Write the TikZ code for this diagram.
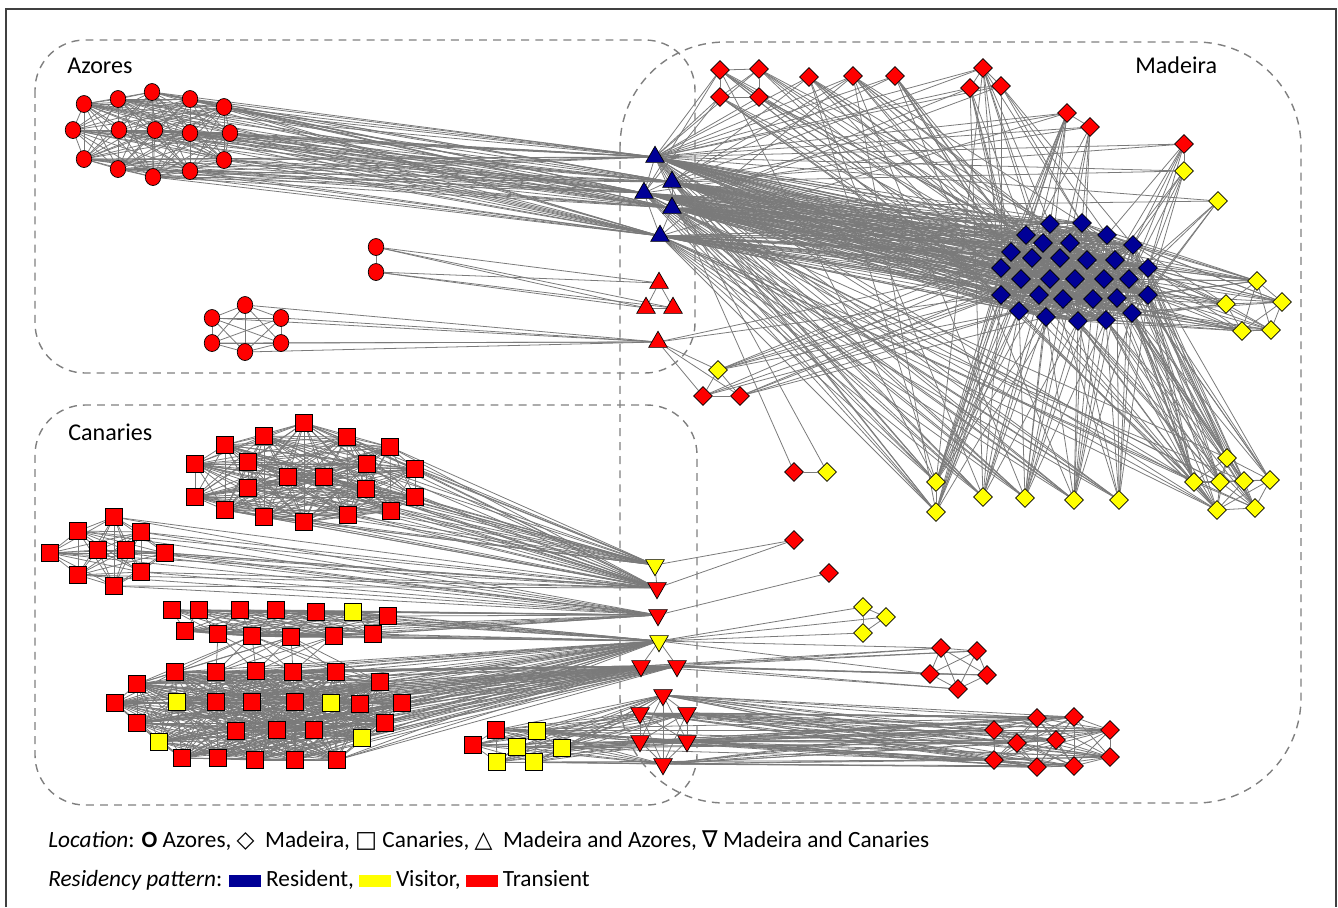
\documentclass[tikz,border=0pt]{standalone}
\usepackage{fontspec}
\setmainfont{Carlito}
\newfontfamily\symfont{DejaVu Sans}
\usetikzlibrary{shapes.geometric,backgrounds}
\definecolor{resblue}{RGB}{0,0,150}
\definecolor{visyellow}{RGB}{255,255,0}
\definecolor{trared}{RGB}{255,0,0}
\definecolor{linkgray}{RGB}{122,122,122}
\definecolor{zonegray}{RGB}{128,128,128}
\tikzset{
  link/.style={draw=linkgray,line width=0.45pt},
  zone/.style={draw=zonegray,line width=0.8pt,dash pattern=on 4.5pt off 3.5pt},
  azo/.style={ellipse,draw,fill=trared,inner sep=0pt,minimum width=0.31cm,minimum height=0.34cm,line width=0.4pt},
  mad/.style={diamond,draw,inner sep=0pt,minimum width=0.38cm,minimum height=0.38cm,line width=0.4pt},
  can/.style={rectangle,draw,inner sep=0pt,minimum size=0.33cm,line width=0.4pt},
  maz/.style={regular polygon,regular polygon sides=3,draw,inner sep=0pt,minimum size=0.43cm,line width=0.4pt},
  mca/.style={maz,shape border rotate=180},
  zonelabel/.style={anchor=base west,inner sep=0pt,font=\fontsize{13.7}{16}\selectfont},
  legend/.style={anchor=base west,inner sep=0pt,font=\fontsize{13.25}{15}\selectfont},
}
% every pair inside one group
\newcommand\clique[2]{\foreach \i in {1,...,#2}{\foreach \j in {\i,...,#2}{\ifnum\i<\j\relax\draw[link] (#1\i) -- (#1\j);\fi}}}
% every node of one list to every node of another
\newcommand\bundle[2]{\foreach \a in {#1}{\foreach \b in {#2}{\draw[link] (\a) -- (\b);}}}
\begin{document}
\begin{tikzpicture}[x=0.02cm,y=-0.02cm]
\useasboundingbox (0,0) rectangle (1338,907);
\draw[line width=0.7pt,draw=black!75] (6,907) -- (6,9) -- (1336,9) -- (1336,907);

% Azores
\foreach \n/\x/\y in {1/84/104,2/118/99,3/152/92,4/190/99,5/224/107,6/73/130,7/119/130,8/155/130,9/190/133,10/230/133,11/84/159,12/118/169,13/153/177,14/190/171,15/224/160}
  \node[azo] (az\n) at (\x,\y) {};
\foreach \n/\x/\y in {1/376/247,2/376/272} \node[azo] (ap\n) at (\x,\y) {};
\foreach \n/\x/\y in {1/245/305,2/212/318,3/281/318,4/212/343,5/281/343,6/245/352} \node[azo] (ah\n) at (\x,\y) {};

% Madeira and Azores
\foreach \n/\x/\y in {1/655/157,2/672/182,3/644/193,4/672/208,5/660/236} \node[maz,fill=resblue] (ta\n) at (\x,\y) {};
\foreach \n/\x/\y in {1/659/283,2/646/308,3/673/308,4/658/342} \node[maz,fill=trared] (tr\n) at (\x,\y) {};

% Madeira
\foreach \n/\x/\y in {1/720/70,2/759/69,3/720/97,4/759/97,5/809/77,6/853/76,7/895/76,8/983/68,9/970/88,10/1001/86,11/1067/113,12/1090/127,13/1184/144}
  \node[mad,fill=trared] (mt\n) at (\x,\y) {};
\foreach \n/\x/\y in {1/1184/171,2/1218/201} \node[mad,fill=visyellow] (mv\n) at (\x,\y) {};
\foreach \n/\x/\y in {1/1050/224,2/1082/223,3/1026/235,4/1107/235,5/1043/243,6/1070/243,7/1133/245,8/1011/252,9/1032/258,10/1060/258,11/1087/260,12/1115/260,13/1001/268,14/1148/268,15/1021/279,16/1050/279,17/1075/279,18/1104/279,19/1129/279,20/1001/295,21/1039/295,22/1063/299,23/1093/299,24/1117/298,25/1148/295,26/1019/311,27/1046/317,28/1078/321,29/1106/320,30/1132/313}
  \node[mad,fill=resblue] (md\n) at (\x,\y) {};
\foreach \n/\x/\y in {1/1257/281,2/1226/304,3/1282/302,4/1242/331,5/1271/330} \node[mad,fill=visyellow] (my\n) at (\x,\y) {};
\foreach \n/\x/\y/\c in {1/718/370/visyellow,2/703/396/trared,3/740/396/trared} \node[mad,fill=\c] (mb\n) at (\x,\y) {};
\foreach \n/\x/\y/\c in {1/794/472/trared,2/827/472/visyellow} \node[mad,fill=\c] (mc\n) at (\x,\y) {};
\foreach \n/\x/\y in {1/936/482,2/936/512,3/983/497,4/1025/498,5/1074/500,6/1119/500} \node[mad,fill=visyellow] (mw\n) at (\x,\y) {};
\foreach \n/\x/\y in {1/1227/458,2/1194/482,3/1220/482,4/1244/481,5/1270/480,6/1217/510,7/1255/508} \node[mad,fill=visyellow] (mz\n) at (\x,\y) {};
\foreach \n/\x/\y in {1/794/540,2/829/573} \node[mad,fill=trared] (me\n) at (\x,\y) {};
\foreach \n/\x/\y in {1/863/607,2/886/617,3/863/633} \node[mad,fill=visyellow] (mq\n) at (\x,\y) {};
\foreach \n/\x/\y in {1/941/648,2/977/651,3/930/674,4/987/675,5/958/689} \node[mad,fill=trared] (mp\n) at (\x,\y) {};
\foreach \n/\x/\y in {1/1037/718,2/1074/717,3/994/730,4/1110/730,5/1017/743,6/1056/740,7/994/760,8/1110/757,9/1037/767,10/1074/766}
  \node[mad,fill=trared] (mr\n) at (\x,\y) {};

% Madeira and Canaries
\foreach \n/\x/\y/\c in {1/655/565/visyellow,2/657/588/trared,3/658/615/trared,4/659/641/visyellow,5/641/666/trared,6/677/666/trared,7/663/695/trared,8/640/713/trared,9/687/713/trared,10/640/741/trared,11/687/741/trared,12/663/764/trared}
  \node[mca,fill=\c] (td\n) at (\x,\y) {};

% Canaries
\foreach \n/\x/\y in {1/304/423,2/264/436,3/347/437,4/225/445,5/390/447,6/195/464,7/248/462,8/367/464,9/415/469,10/288/477,11/324/477,12/248/488,13/366/489,14/195/497,15/415/497,16/225/510,17/264/517,18/304/522,19/348/515,20/391/511}
  \node[can,fill=trared] (ca\n) at (\x,\y) {};
\foreach \n/\x/\y in {1/114/517,2/78/531,3/141/532,4/50/553,5/98/550,6/126/550,7/165/553,8/78/575,9/141/572,10/114/586}
  \node[can,fill=trared] (cb\n) at (\x,\y) {};
\foreach \n/\x/\y/\c in {1/172/610/trared,2/199/610/trared,3/240/610/trared,4/276/610/trared,5/316/612/trared,6/353/612/visyellow,7/388/616/trared,8/185/631/trared,9/218/634/trared,10/252/636/trared,11/291/637/trared,12/334/636/trared,13/373/634/trared}
  \node[can,fill=\c] (cc\n) at (\x,\y) {};
\foreach \n/\x/\y/\c in {1/175/672/trared,2/216/672/trared,3/256/671/trared,4/293/672/trared,5/336/672/trared,6/380/682/trared,7/137/684/trared,8/115/703/trared,9/177/702/visyellow,10/216/702/trared,11/252/702/trared,12/295/702/trared,13/331/703/visyellow,14/360/704/trared,15/402/703/trared,16/137/723/trared,17/236/731/trared,18/277/730/trared,19/314/730/trared,20/385/723/trared,21/362/738/visyellow,22/159/742/visyellow,23/182/758/trared,24/218/758/trared,25/255/760/trared,26/295/760/trared,27/337/760/trared}
  \node[can,fill=\c] (cd\n) at (\x,\y) {};
\foreach \n/\x/\y/\c in {1/496/730/trared,2/473/745/trared,3/537/731/visyellow,4/517/747/visyellow,5/562/748/visyellow,6/497/762/visyellow,7/534/762/visyellow}
  \node[can,fill=\c] (ce\n) at (\x,\y) {};

\node[zonelabel] (azlabel) at (67,73) {Azores};
\node[zonelabel] (madlabel) at (1135,73) {Madeira};
\node[zonelabel] (canlabel) at (68,440) {Canaries};

\node[legend] (loclegend) at (48,847) {\textit{Location}: \textbf{O} Azores, {\symfont ◇}\ \ Madeira, {\symfont □} Canaries, {\symfont △}\ \ Madeira and Azores, {\symfont ∇} Madeira and Canaries};
\node[legend] (reslegend) at (48,886) {\textit{Residency pattern}: \textcolor{resblue}{\rule[-0.5pt]{18pt}{6.5pt}} Resident, \textcolor{visyellow}{\rule[-0.5pt]{18pt}{6.5pt}} Visitor, \textcolor{trared}{\rule[-0.5pt]{18pt}{6.5pt}} Transient};

\begin{scope}[on background layer]
  % groups
  \clique{az}{15} \clique{ah}{6} \clique{md}{30} \clique{my}{5} \clique{mz}{7} \clique{mp}{5} \clique{mr}{10} \clique{mq}{3}
  \clique{ca}{20} \clique{cb}{10} \clique{cc}{13} \clique{cd}{27} \clique{ce}{7} \clique{tr}{3} \clique{mt}{4}
  \bundle{mt8}{mt9,mt10} \bundle{mt9}{mt10} \bundle{td7,td8,td9,td10,td11}{td12}
  \bundle{td7}{td8,td9,td10,td11} \bundle{td8}{td9,td10,td11} \bundle{td9}{td10,td11} \bundle{td10}{td11}
  \bundle{ap1}{ap2} \bundle{mt11}{mt12} \bundle{mt13}{mv1} \bundle{mw1}{mw2} \bundle{mc1}{mc2}
  \bundle{mb1}{mb2,mb3} \bundle{mb2}{mb3} \bundle{td1}{td2} \bundle{td4}{td5,td6}
  \bundle{ta1}{ta2,ta3} \bundle{ta2}{ta4} \bundle{ta3}{ta4,ta5} \bundle{ta4}{ta5}
  % Azores to Madeira
  \foreach \a in {1,...,15}{\foreach \b in {1,...,5}{\draw[link] (az\a) -- (ta\b);}}
  \bundle{ap1,ap2}{tr1,tr2,tr3}
  \bundle{ah1,ah2,ah3,ah4,ah5,ah6}{tr4}
  \bundle{tr4}{mb1,mb2,mb3,md13,md20}
  % inside Madeira
  \foreach \a in {1,...,5}{\foreach \b in {1,...,30}{\draw[link] (ta\a) -- (md\b);}}
  \bundle{ta1}{mt1,mt2,mt3,mt4,mt5,mt6,mt7,mt8,mt9,mt10,mt11,mt12,mt13,mv1,mv2,mc1,mc2}
  \bundle{ta2}{mt5,mt6,mt8,mt11,mt13,mv1}
  \bundle{ta3}{mt1,mt3,mt7,mt12}
  \bundle{ta4}{mt9,mt10,mv2}
  \bundle{ta5}{mt6,mt11}
  \foreach \p/\l in {mt1/{3,8,13,20,26},mt2/{1,3,9,15},mt3/{8,13,20,26,27},mt4/{3,5,9,21},mt5/{1,5,10,16,22},mt6/{2,6,11,17},mt7/{3,9,15,21,27},mt8/{1,2,5,20,26},mt9/{3,8,15,26},mt10/{2,4,7,13},mt11/{1,3,8,13,20,26},mt12/{2,6,20,27},mt13/{4,7,12,14,19},mv1/{7,12,14,19,25},mv2/{14,19,25,30},
    mw1/{13,20,26,8,15,3,21,27},mw2/{13,20,26,15,9,22},mw3/{20,26,27,21,16,28},mw4/{26,27,28,22,17,29,23},mw5/{27,28,29,23,18,24,30},mw6/{28,29,30,24,25,19},
    mz1/{7,14,19,25,30,12,24},mz2/{4,7,12,14,18,19,24,25,29,30},mz3/{14,19,25,30,24,29,28},mz4/{25,30,29,24,14,7},mz5/{30,25,19,14,12},mz6/{20,26,27,28,29,30,25},mz7/{25,30,29,28,24},
    my1/{2,4,7,11,12,14,18,19,24,25},my2/{7,12,14,19,25,30,24,29},my3/{4,7,12,14,19,25,30},my4/{14,19,25,30,24,29,23,28},my5/{14,25,30,29,19},
    mb1/{13,20,26,15,8},mb2/{20,26,13},mb3/{20,26,27,15}}
    {\foreach \q in \l {\draw[link] (\p) -- (md\q);}}
  \foreach \a in {1,...,5}{\foreach \b in {1,...,6}{\draw[link] (ta\a) -- (mw\b);}}
  \bundle{ta1}{mz2,mz6,my1,my2} \bundle{ta2}{my1,my3} \bundle{ta3}{mz2,mz3}
  \bundle{ta4}{mz1,mz3,mz6,my2,my4} \bundle{ta5}{mz2,mz4,mz6,mz7,my4,my5}
  \bundle{mt5}{mw1,mw3,mz2} \bundle{mt6}{mw2,mw4,mz3,mz6} \bundle{mt1}{mw1} \bundle{mt7}{mw5,mz6}
  \bundle{mt8}{mw1,mw6} \bundle{mt9}{mw3} \bundle{mt11}{mw2,mw4} \bundle{mt12}{mw5} \bundle{mt2}{mz2}
  % Canaries to Madeira
  \foreach \a in {1,...,20}{\foreach \b in {1,2}{\draw[link] (ca\a) -- (td\b);}}
  \foreach \a in {1,...,10}{\foreach \b in {2,3}{\draw[link] (cb\a) -- (td\b);}}
  \foreach \a in {1,...,13}{\foreach \b in {3,4}{\draw[link] (cc\a) -- (td\b);}}
  \foreach \a in {1,...,27}{\foreach \b in {4,5,6}{\draw[link] (cd\a) -- (td\b);}}
  \foreach \a in {1,...,7}{\foreach \b in {7,...,12}{\draw[link] (ce\a) -- (td\b);}}
  \bundle{cc10,cc11}{cd1,cd2,cd3,cd4,cd5,cd6,cd7}
  \bundle{cc9,cc12}{cd2,cd3,cd4}
  \foreach \a in {7,...,12}{\foreach \b in {1,...,10}{\draw[link] (td\a) -- (mr\b);}}
  \bundle{ce1,ce5}{mr1,mr3,mr5,mr7} \bundle{ce3,ce7}{mr7,mr9} \bundle{ce4}{mr5}
  \bundle{td5,td6}{mp1,mp2,mp3,mp4,mp5}
  \bundle{td4}{mq1,mq2,mq3,mp1,mp3}
  \bundle{td1,td2}{me1} \bundle{td3}{me2}
  % zones
  \draw[zone,rounded corners=1cm] (35,40) rectangle (695,373);
  \draw[zone,rounded corners=1cm] (35,405) rectangle (697,805);
  \draw[zone,rounded corners=2.1cm] (620,42) rectangle (1301,803);
\end{scope}
\end{tikzpicture}
\end{document}
